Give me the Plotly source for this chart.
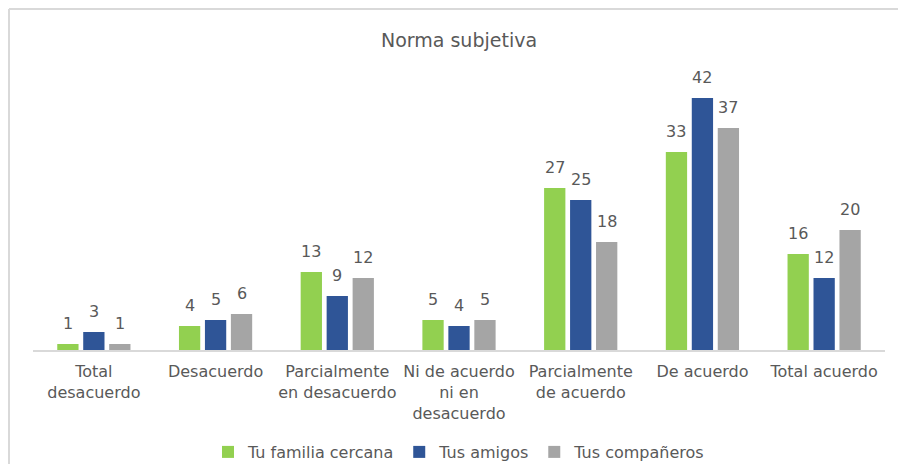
import plotly.graph_objects as go

categories = ["Total<br>desacuerdo", "Desacuerdo", "Parcialmente<br>en desacuerdo",
              "Ni de acuerdo<br>ni en<br>desacuerdo", "Parcialmente<br>de acuerdo",
              "De acuerdo", "Total acuerdo"]
familia = [1, 4, 13, 5, 27, 33, 16]
amigos = [3, 5, 9, 4, 25, 42, 12]
companeros = [1, 6, 12, 5, 18, 37, 20]

series_names = ["Tu familia cercana", "Tus amigos", "Tus compañeros"]
series_values = [familia, amigos, companeros]
colors = ["#92D050", "#2F5597", "#A5A5A5"]
offsets = [-26, 0, 26]

FONT = "DejaVu Sans"
TXT = "#595959"

fig = go.Figure()
for name, vals, col in zip(series_names, series_values, colors):
    fig.add_trace(go.Bar(x=categories, y=vals, name=name, marker_color=col,
                         marker_line_width=0))

annotations = []
for vals, off in zip(series_values, offsets):
    for c, v in zip(categories, vals):
        annotations.append(dict(x=c, y=v, xref="x", yref="y", text=str(v),
                                showarrow=False, xshift=off, yshift=9,
                                yanchor="bottom",
                                font=dict(family=FONT, size=16, color=TXT)))

W, H = 898, 464
L, R = 33, 885
T, B = 80, 350
pw, ph = R - L, B - T

bx0 = (9 - L) / pw
bx1 = (W + 5 - L) / pw
by0 = (B - 9) / ph
by1 = (B - H - 5) / ph

fig.update_layout(
    width=W, height=H,
    margin=dict(l=L, r=W - R, t=T, b=H - B, pad=0),
    paper_bgcolor="white", plot_bgcolor="white",
    barmode="group", bargap=0.36, bargroupgap=0.18,
    title=dict(text="Norma subjetiva", x=0.5, xref="paper", xanchor="center",
               y=1 - 40 / H, yref="container", yanchor="middle",
               font=dict(family=FONT, size=19, color=TXT)),
    font=dict(family=FONT, size=16, color=TXT),
    xaxis=dict(showline=True, linecolor="#D9D9D9", linewidth=1.5,
               ticks="", showgrid=False, zeroline=False, ticklabelstandoff=6,
               tickfont=dict(family=FONT, size=16, color=TXT)),
    yaxis=dict(range=[0, 45], visible=False, showgrid=False, zeroline=False),
    legend=dict(orientation="h", x=0.5, xref="paper", xanchor="center",
                y=1 - 452 / H, yref="container", yanchor="middle",
                font=dict(family=FONT, size=16, color=TXT),
                traceorder="normal", itemwidth=30),
    annotations=annotations,
    shapes=[
        dict(type="line", xref="paper", yref="paper", x0=bx0, x1=bx1, y0=by0, y1=by0,
             line=dict(color="#D9D9D9", width=2), layer="below"),
        dict(type="line", xref="paper", yref="paper", x0=bx0, x1=bx0, y0=by0, y1=by1,
             line=dict(color="#D9D9D9", width=2), layer="below"),
    ],
    showlegend=True,
)

fig.write_html("out.html",
               config={"displayModeBar": False},
               post_script="document.body.style.margin='0';"
                           "document.body.style.overflow='hidden';")
